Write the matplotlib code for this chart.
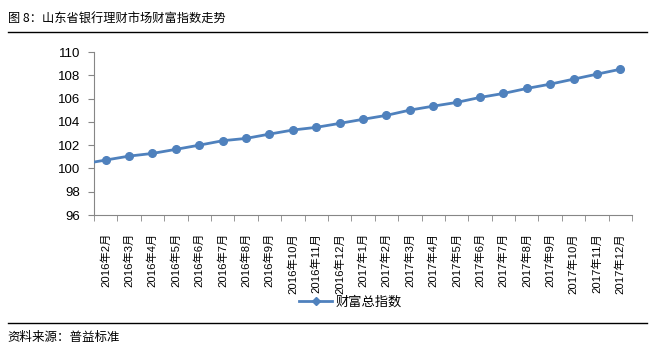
import numpy as np
import matplotlib.pyplot as plt
from matplotlib.lines import Line2D

plt.rcParams['font.family'] = ['Noto Sans CJK SC', 'DejaVu Sans']
tick_font = ['Liberation Sans', 'Noto Sans CJK SC']

months = ['2016年2月', '2016年3月', '2016年4月', '2016年5月', '2016年6月', '2016年7月',
          '2016年8月', '2016年9月', '2016年10月', '2016年11月', '2016年12月', '2017年1月',
          '2017年2月', '2017年3月', '2017年4月', '2017年5月', '2017年6月', '2017年7月',
          '2017年8月', '2017年9月', '2017年10月', '2017年11月', '2017年12月']
values = [100.72, 101.06, 101.29, 101.64, 102.0, 102.38, 102.58, 102.95, 103.3, 103.53,
          103.87, 104.22, 104.56, 105.01, 105.35, 105.67, 106.1, 106.44, 106.87, 107.24,
          107.67, 108.1, 108.52]
# previous month (2016年1月), outside the visible range; only the line stub shows
prev_value = 100.38

blue = '#4F81BD'
grey = '#868686'

fig = plt.figure(figsize=(6.55, 3.58), dpi=100)
ax = fig.add_axes([0.1435, 0.3994, 0.8215, 0.4553])

x = np.arange(len(months))
ax.plot(np.r_[-1, x], np.r_[prev_value, values], color=blue, lw=2, zorder=3)
ax.plot(x, values, 'o', color=blue, ms=5.5, zorder=4)

ax.set_xlim(-0.5, len(months) - 0.5)
ax.set_ylim(96, 110)
ax.set_yticks(np.arange(96, 111, 2))
for lab in ax.get_yticklabels():
    lab.set_family(tick_font)

ax.set_xticks(x)
ax.set_xticklabels(months, rotation=90, fontsize=8.1, family=tick_font)
ax.set_xticks(np.arange(-0.5, len(months), 1), minor=True)
ax.tick_params(axis='x', which='major', length=0, pad=13)
ax.tick_params(axis='x', which='minor', length=4, color=grey, direction='out')
ax.tick_params(axis='y', length=4, color=grey, labelsize=9.5, pad=6)

for s in ['top', 'right']:
    ax.spines[s].set_visible(False)
for s in ['left', 'bottom']:
    ax.spines[s].set_color(grey)

handle = Line2D([], [], color=blue, lw=2, marker='D', ms=4.5)
fig.legend([handle], ['财富总指数'], loc='center', bbox_to_anchor=(0.535, 0.157),
           frameon=False, fontsize=9.5, handlelength=2.5, handletextpad=0.2)

fig.text(0.012, 0.95, '图 8：山东省银行理财市场财富指数走势', fontsize=8.8, va='center')
fig.add_artist(Line2D([0.012, 0.988], [0.91, 0.91], color='black', lw=1))
fig.add_artist(Line2D([0.012, 0.988], [0.098, 0.098], color='black', lw=1))
fig.text(0.012, 0.058, '资料来源：普益标准', fontsize=9, va='center')

fig.savefig('out.png', dpi=100)
